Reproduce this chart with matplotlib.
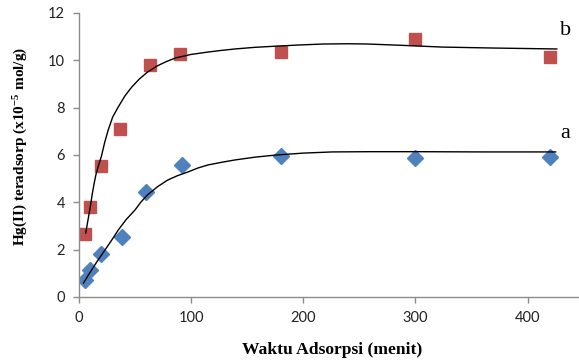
import matplotlib
matplotlib.use("Agg")
import matplotlib.pyplot as plt

plt.rcParams["mathtext.fontset"] = "custom"
plt.rcParams["mathtext.rm"] = "Liberation Serif:bold"
plt.rcParams["mathtext.it"] = "Liberation Serif:bold"
plt.rcParams["mathtext.bf"] = "Liberation Serif:bold"

# Data points
x_a = [5, 10, 20, 38, 60, 92, 180, 300, 420]
y_a = [0.72, 1.14, 1.82, 2.54, 4.44, 5.58, 5.96, 5.87, 5.91]
x_b = [5, 10, 20, 36.5, 63, 90, 180, 300, 420]
y_b = [2.66, 3.80, 5.53, 7.10, 9.80, 10.27, 10.35, 10.90, 10.14]

# Trendlines
cx_a = [4, 8, 12, 16, 20, 28, 35, 42, 50, 55, 61, 70, 79, 88, 97, 106, 115, 127, 139, 157, 176, 200, 226, 260, 300, 360, 425]
cy_a = [0.59, 0.90, 1.20, 1.49, 1.77, 2.32, 2.83, 3.27, 3.68, 4.00, 4.31, 4.66, 4.94, 5.13, 5.28, 5.45, 5.58, 5.69, 5.79, 5.91, 6.00, 6.08, 6.13, 6.14, 6.14, 6.13, 6.13]
cx_b = [6, 8, 10, 12, 13.5, 15, 17, 20, 23, 26, 30, 35, 41, 47, 54, 61, 70, 78, 86, 100, 115, 127, 139, 157, 176, 197, 218, 240, 257, 290, 324, 369, 426]
cy_b = [2.70, 3.25, 3.80, 4.40, 4.80, 5.15, 5.50, 5.95, 6.55, 7.05, 7.60, 8.03, 8.50, 8.87, 9.22, 9.50, 9.77, 9.95, 10.10, 10.25, 10.35, 10.42, 10.48, 10.55, 10.60, 10.65, 10.69, 10.70, 10.69, 10.63, 10.56, 10.52, 10.48]

x_ticks = [0, 100, 200, 300, 400]
y_ticks = [0, 2, 4, 6, 8, 10, 12]

W, H = 579, 363
fig = plt.figure(figsize=(W / 100, H / 100), dpi=100)
ax = fig.add_axes([79 / W, 66 / H, 500 / W, 284 / H])

ax.plot(cx_a, cy_a, color="black", lw=1.0, zorder=3)
ax.plot(cx_b, cy_b, color="black", lw=1.0, zorder=3)
ax.plot(x_a, y_a, linestyle="none", marker="D", markersize=7.8, color="#4F81BD", zorder=2)
ax.plot(x_b, y_b, linestyle="none", marker="s", markersize=9, color="#C0504D", zorder=2)

ax.set_xlim(0, 445.8)
ax.set_ylim(0, 12)
ax.set_xticks(x_ticks)
ax.set_yticks(y_ticks)
for s in ["top", "right"]:
    ax.spines[s].set_visible(False)
for s in ["left", "bottom"]:
    ax.spines[s].set_color("#8c8c8c")
    ax.spines[s].set_linewidth(1.0)
ax.tick_params(axis="both", direction="out", length=4, width=1, color="#8c8c8c",
               labelsize=10.5, labelcolor="#222222", pad=6)
for lab in ax.get_xticklabels() + ax.get_yticklabels():
    lab.set_fontfamily("Lato")

serif = "Liberation Serif"
fig.text(332 / W, 1 - 350 / H, "Waktu Adsorpsi (menit)", fontfamily=serif, fontweight="bold",
         fontsize=12.6, ha="center", va="center")
fig.text(21 / W, 1 - 146 / H, "Hg(II) teradsorp (x10$^{-5}$ mol/g)", fontfamily=serif,
         fontweight="bold", fontsize=11, ha="center", va="center", rotation=90)

ax.text(429, 11.07, "b", fontfamily=serif, fontsize=16, ha="left", va="baseline")
ax.text(429, 6.72, "a", fontfamily=serif, fontsize=16, ha="left", va="baseline")

fig.savefig("out.png", dpi=100)
